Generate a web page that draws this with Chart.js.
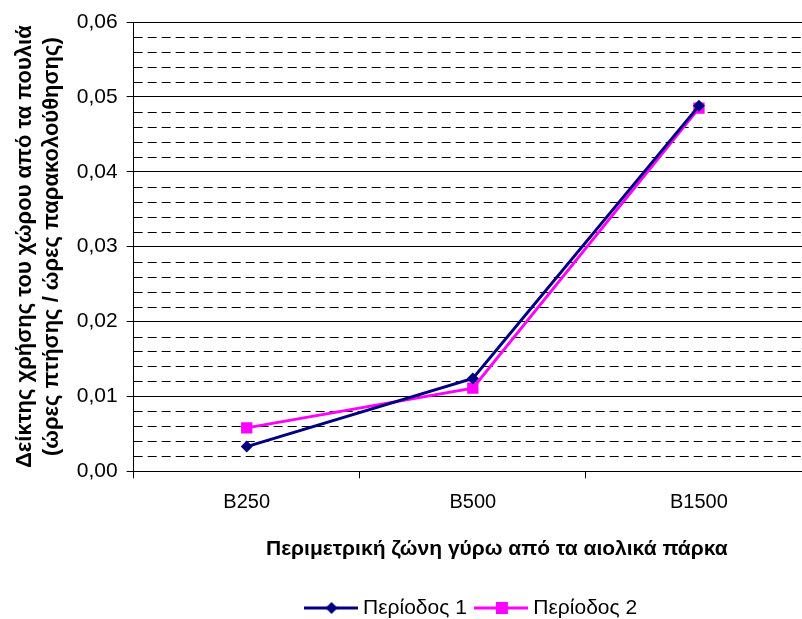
<!DOCTYPE html>
<html>
<head>
<meta charset="utf-8">
<script src="https://cdn.jsdelivr.net/npm/chart.js@4.4.1/dist/chart.umd.min.js"></script>
<style>
html,body{margin:0;padding:0;background:#fff;overflow:hidden;}
#wrap{width:802px;height:619px;position:relative;overflow:hidden;}
canvas{display:block;}
</style>
</head>
<body>
<div id="wrap"><canvas id="c" width="820" height="630"></canvas></div>
<script>
const categories = ['B250', 'B500', 'B1500'];
const period1 = [0.0033, 0.0124, 0.0488];
const period2 = [0.0058, 0.0111, 0.0485];
const seriesNames = ['Περίοδος 1', 'Περίοδος 2'];
const yTitle = ['Δείκτης χρήσης του χώρου από τα πουλιά', '(ώρες πτήσης / ώρες παρακολούθησης)'];
const xTitle = 'Περιμετρική ζώνη γύρω από τα αιολικά πάρκα';
const yMin = 0, yMax = 0.06, yMajor = 0.01, yMinor = 0.002;

const FONT = "'Liberation Sans', Arial, sans-serif";
const XT_SIZE = 21, XT_PAD = { top: 10, bottom: 24 };

function legendIcon(color, style) {
  const cv = document.createElement('canvas');
  cv.width = 54; cv.height = 16;
  const g = cv.getContext('2d');
  g.strokeStyle = color; g.lineWidth = 3;
  g.beginPath(); g.moveTo(0, 8); g.lineTo(54, 8); g.stroke();
  g.fillStyle = color;
  g.beginPath();
  if (style === 'diamond') {
    g.moveTo(28, 2); g.lineTo(34, 8); g.lineTo(28, 14); g.lineTo(22, 8); g.closePath();
  } else {
    g.rect(22, 2, 12, 12);
  }
  g.fill();
  return cv;
}

function isMajor(v) {
  const r = v / yMajor;
  return Math.abs(r - Math.round(r)) < 1e-6;
}

const minorGrid = {
  id: 'minorGrid',
  beforeDatasetsDraw(chart) {
    const y = chart.scales.y, a = chart.chartArea, ctx = chart.ctx;
    ctx.save();
    ctx.strokeStyle = '#000';
    ctx.lineWidth = 1;
    ctx.setLineDash([9, 5]);
    const n = Math.round((yMax - yMin) / yMinor);
    for (let i = 1; i < n; i++) {
      const v = yMin + i * yMinor;
      if (isMajor(v)) continue;
      const py = Math.round(y.getPixelForValue(v)) + 0.5;
      ctx.beginPath(); ctx.moveTo(a.left, py); ctx.lineTo(a.right, py); ctx.stroke();
    }
    ctx.restore();
  }
};

// x-axis title drawn slightly right of the plot centre, like the original
const xTitlePlugin = {
  id: 'xTitle',
  afterDraw(chart) {
    const s = chart.scales.x, a = chart.chartArea, ctx = chart.ctx;
    const lh = XT_SIZE * 1.2;
    ctx.save();
    ctx.font = 'bold ' + XT_SIZE + 'px ' + FONT;
    ctx.fillStyle = '#000';
    ctx.textAlign = 'center';
    ctx.textBaseline = 'middle';
    ctx.fillText(xTitle, (a.left + a.right) / 2 + 24, s.bottom - XT_PAD.bottom - lh / 2);
    ctx.restore();
  }
};

new Chart(document.getElementById('c'), {
  type: 'line',
  data: {
    labels: categories,
    datasets: [
      {
        label: seriesNames[0], data: period1,
        borderColor: '#000080', backgroundColor: '#000080',
        borderWidth: 3, pointStyle: 'rectRot',
        pointRadius: 6, pointBorderWidth: 0, tension: 0
      },
      {
        label: seriesNames[1], data: period2,
        borderColor: '#FF00FF', backgroundColor: '#FF00FF',
        borderWidth: 3, pointStyle: 'rect',
        pointRadius: 8, pointBorderWidth: 0, tension: 0
      }
    ]
  },
  options: {
    responsive: false,
    animation: false,
    layout: { padding: { left: 12, right: 3, top: 22, bottom: 1.5 } },
    plugins: {
      legend: {
        position: 'bottom',
        fullSize: false,
        labels: {
          usePointStyle: true,
          pointStyleWidth: 44,
          font: { family: FONT, size: 21 },
          color: '#000',
          padding: 12,
          generateLabels(chart) {
            return chart.data.datasets.map((ds, i) => ({
              text: ds.label,
              pointStyle: legendIcon(ds.borderColor, i === 0 ? 'diamond' : 'square'),
              fillStyle: ds.borderColor, strokeStyle: ds.borderColor,
              lineWidth: 0, hidden: false, datasetIndex: i, fontColor: '#000'
            }));
          }
        }
      },
      tooltip: { enabled: false }
    },
    scales: {
      x: {
        type: 'category',
        offset: true,
        grid: { offset: true, drawOnChartArea: false, color: '#000', tickLength: 7, lineWidth: 1 },
        border: { color: '#000', width: 1 },
        ticks: { color: '#000', font: { family: FONT, size: 20 }, padding: 12, maxRotation: 0 },
        title: { display: true, text: xTitle, color: 'rgba(0,0,0,0)', font: { family: FONT, size: XT_SIZE, weight: 'bold' }, padding: XT_PAD }
      },
      y: {
        min: yMin, max: yMax,
        afterBuildTicks(scale) {
          const t = [];
          const n = Math.round((yMax - yMin) / yMinor);
          for (let i = 0; i <= n; i++) t.push({ value: +(yMin + i * yMinor).toFixed(4) });
          scale.ticks = t;
        },
        grid: {
          color: ctx => isMajor(ctx.tick.value) ? '#000' : 'rgba(0,0,0,0)',
          tickLength: 7, lineWidth: 1
        },
        border: { color: '#000', width: 1 },
        ticks: {
          autoSkip: false,
          color: '#000',
          font: { family: FONT, size: 21 },
          padding: 9,
          callback: v => isMajor(v) ? v.toFixed(2).replace('.', ',') : ''
        },
        title: { display: true, text: yTitle, color: '#000', font: { family: FONT, size: 22, weight: 'bold' }, padding: { top: 0, bottom: 3 } }
      }
    }
  },
  plugins: [minorGrid, xTitlePlugin]
});
</script>
</body>
</html>
